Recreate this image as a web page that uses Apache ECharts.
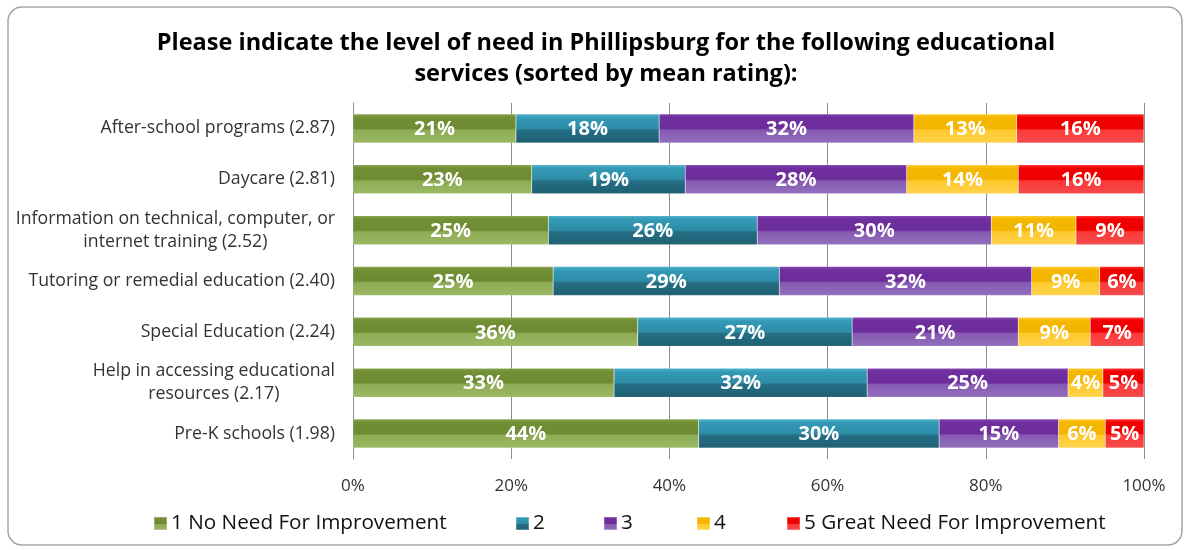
<!DOCTYPE html>
<html>
<head>
<meta charset="utf-8">
<script src="https://cdn.jsdelivr.net/npm/echarts@6/dist/echarts.min.js"></script>
<style>html,body{margin:0;padding:0;background:#fff;}#c{width:1188px;height:550px;}</style>
</head>
<body>
<div id="c"></div>
<script>
var categories = [
  'After-school programs (2.87)',
  'Daycare (2.81)',
  'Information on technical, computer, or\ninternet training (2.52)',
  'Tutoring or remedial education (2.40)',
  'Special Education (2.24)',
  'Help in accessing educational\nresources (2.17)',
  'Pre-K schools (1.98)'
];
var seriesNames = ['1 No Need For Improvement', '2', '3', '4', '5 Great Need For Improvement'];
var level1 = [20.6, 22.6, 24.7, 25.3, 36.0, 33.0, 43.7];
var level2 = [18.1, 19.4, 26.4, 28.6, 27.1, 32.0, 30.4];
var level3 = [32.2, 28.0, 29.6, 31.9, 21.0, 25.4, 15.1];
var level4 = [13.0, 14.1, 10.7, 8.6, 9.1, 4.4, 5.9];
var level5 = [16.1, 15.9, 8.6, 5.6, 6.8, 5.2, 4.9];
var xTicks = [0, 20, 40, 60, 80, 100];

var FONT = 'Open Sans';
function grad(stops) {
  return new echarts.graphic.LinearGradient(0, 0, 0, 1, stops.map(function (s) { return { offset: s[0], color: s[1] }; }));
}
var fills = [
  grad([[0, '#86a24b'], [0.12, '#718f34'], [0.5, '#6e8b32'], [0.56, '#8eab55'], [1, '#9bb963']]),
  grad([[0, '#4cb0cb'], [0.14, '#3399b5'], [0.5, '#2e8ca7'], [0.56, '#256f85'], [1, '#1f5f72']]),
  grad([[0, '#8040b0'], [0.12, '#6f2f9e'], [0.5, '#6c2d9b'], [0.56, '#8659b2'], [1, '#9270bc']]),
  grad([[0, '#ffcb30'], [0.12, '#f5b800'], [0.5, '#f2b400'], [0.56, '#ffca2e'], [1, '#ffd24d']]),
  grad([[0, '#ff3030'], [0.12, '#f20000'], [0.5, '#ee0000'], [0.56, '#ff3a3a'], [1, '#f24a4a']])
];
var legendColors = ['#76923c', '#31859c', '#7030a0', '#ffc000', '#ff0000'];
var legendLeft = [148, 510, 598, 691, 781];
var data = [level1, level2, level3, level4, level5];

var series = seriesNames.map(function (n, i) {
  return {
    name: n,
    type: 'bar',
    stack: 'total',
    barWidth: 29,
    data: data[i],
    itemStyle: { color: fills[i], borderColor: 'rgba(255,255,255,0.25)', borderWidth: 0.5 },
    label: {
      show: true,
      position: 'inside',
      offset: [0, 1],
      color: '#fff',
      fontFamily: FONT,
      fontWeight: 'bold',
      fontSize: 20,
      formatter: function (p) { return Math.round(p.value) + '%'; }
    },
    emphasis: { disabled: true }
  };
});

var legends = seriesNames.map(function (n, i) {
  return {
    left: legendLeft[i],
    top: 508,
    itemWidth: 13,
    itemHeight: 13,
    icon: 'rect',
    data: [{ name: n, itemStyle: { color: fills[i] } }],
    textStyle: { fontFamily: FONT, fontSize: 20.7, color: '#111', padding: [0, 0, 0, -1] }
  };
});

var chart = echarts.init(document.getElementById('c'), null, { renderer: 'canvas' });
chart.setOption({
  animation: false,
  backgroundColor: '#fff',
  color: legendColors,
  title: {
    text: 'Please indicate the level of need in Phillipsburg for the following educational\nservices (sorted by mean rating):',
    left: 601,
    textAlign: 'center',
    top: 23,
    textStyle: { fontFamily: FONT, fontWeight: 'bold', fontSize: 23.5, lineHeight: 31, color: '#000' }
  },
  graphic: [{
    type: 'rect',
    shape: { x: 8, y: 7, width: 1174, height: 538, r: 14 },
    style: { fill: 'none', stroke: '#a6a6a6', lineWidth: 1.5 },
    silent: true,
    z: -1
  }],
  legend: legends,
  grid: { left: 353, right: 44, top: 103, bottom: 91, containLabel: false },
  xAxis: {
    type: 'value',
    min: xTicks[0],
    max: xTicks[xTicks.length - 1],
    interval: 20,
    axisLine: { show: false },
    axisTick: { show: false },
    splitLine: { show: true, lineStyle: { color: '#8c8c8c', width: 1 } },
    axisLabel: { formatter: '{value}%', fontFamily: FONT, fontSize: 17, color: '#333', margin: 19 }
  },
  yAxis: {
    type: 'category',
    inverse: true,
    data: categories,
    axisLine: { show: true, lineStyle: { color: '#8c8c8c', width: 1 } },
    axisTick: { show: false },
    axisLabel: {
      margin: 18,
      color: '#333',
      fontFamily: FONT,
      fontSize: 17.7,
      formatter: function (v) { return v.split('\n').map(function (l) { return '{a|' + l + '}'; }).join('\n'); },
      rich: { a: { align: 'center', fontFamily: FONT, fontSize: 17.7, color: '#333', lineHeight: 23 } }
    }
  },
  series: series
});
</script>
</body>
</html>
